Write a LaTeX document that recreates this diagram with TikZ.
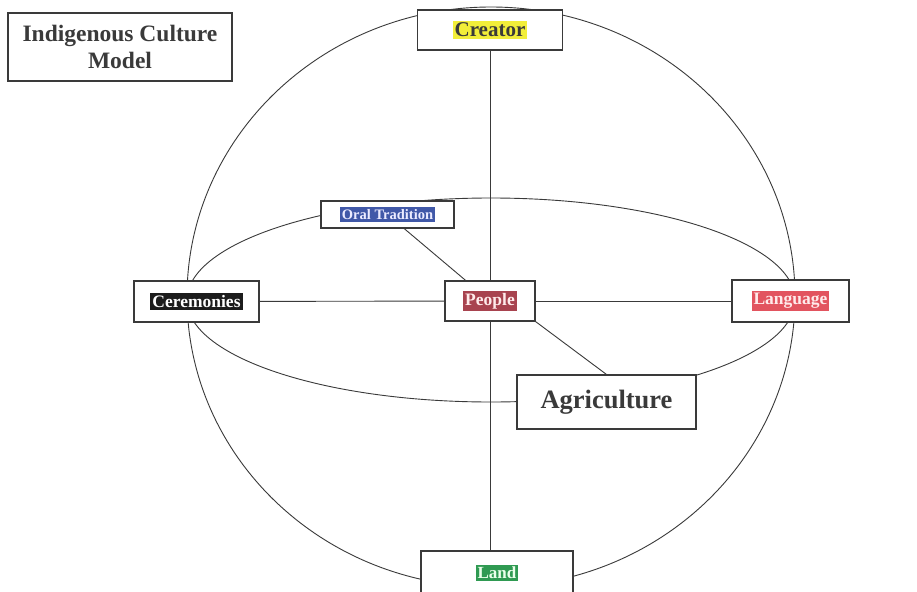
\documentclass[tikz,border=0pt]{standalone}
\usepackage{fontspec}
\setmainfont{Liberation Serif}
\usepackage{xcolor}
\usetikzlibrary{positioning}
\definecolor{ModelInk}{HTML}{3A3A3A}
\definecolor{ModelYellow}{HTML}{F2EE3A}
\definecolor{ModelBlue}{HTML}{4058A8}
\definecolor{ModelBlack}{HTML}{1C1C1C}
\definecolor{ModelWine}{HTML}{A8434F}
\definecolor{ModelRose}{HTML}{E2545F}
\definecolor{ModelGreen}{HTML}{2F9A52}
\setlength{\fboxsep}{2pt}
\newcommand{\hilite}[3]{\colorbox{#1}{\textcolor{#2}{#3}}}

\begin{document}
\begin{tikzpicture}[x=1pt,y=-1pt,
  box/.style={draw=ModelInk,fill=white,line width=1.1pt,inner sep=0pt},
  link/.style={ModelInk,line width=0.9pt}]
  \useasboundingbox[fill=white] (0,0) rectangle (917,591);

  % sphere and equator
  \draw[link] (491,297) ellipse [x radius=304,y radius=290];
  \draw[link] (491,300) ellipse [x radius=304,y radius=102];

  \node[box,minimum width=224pt,minimum height=68pt,align=center,
        font=\bfseries\fontsize{23.5}{27}\selectfont] (title) at (120,47)
        {\textcolor{ModelInk}{Indigenous Culture}\\\textcolor{ModelInk}{Model}};
  \node[box,minimum width=145pt,minimum height=40pt,
        font=\bfseries\fontsize{21}{24}\selectfont] (creator) at (490,30)
        {\hilite{ModelYellow}{ModelInk}{Creator}};
  \node[box,minimum width=133pt,minimum height=27pt,
        font=\bfseries\fontsize{14.5}{17}\selectfont] (oral) at (387.5,214.5)
        {\hilite{ModelBlue}{blue!8}{Oral Tradition}};
  \node[box,minimum width=125pt,minimum height=41pt,
        font=\bfseries\fontsize{17.5}{20}\selectfont] (ceremonies) at (196.5,301.5)
        {\hilite{ModelBlack}{white}{Ceremonies}};
  \node[box,minimum width=90pt,minimum height=40pt,
        font=\bfseries\fontsize{17.5}{20}\selectfont] (people) at (490,301)
        {\hilite{ModelWine}{white!92!red}{People}};
  \node[box,minimum width=117pt,minimum height=42pt,
        font=\bfseries\fontsize{17.5}{20}\selectfont] (language) at (790.5,301)
        {\hilite{ModelRose}{white!92!red}{Language}};
  \node[box,minimum width=179pt,minimum height=54pt,
        font=\bfseries\fontsize{26.5}{30}\selectfont] (agriculture) at (606.5,402)
        {\textcolor{ModelInk}{Agriculture}};
  \node[box,minimum width=152pt,minimum height=44pt,
        font=\bfseries\fontsize{17}{20}\selectfont] (land) at (497,573)
        {\hilite{ModelGreen}{white!92!green}{Land}};

  \draw[link] (creator) -- (people);
  \draw[link] (people.south) -- (people.south |- land.north);
  \draw[link] (ceremonies) -- (people);
  \draw[link] (people) -- (language);
  \draw[link] (oral) -- (people);
  \draw[link] (people.south east) -- (agriculture.north);
\end{tikzpicture}
\end{document}
